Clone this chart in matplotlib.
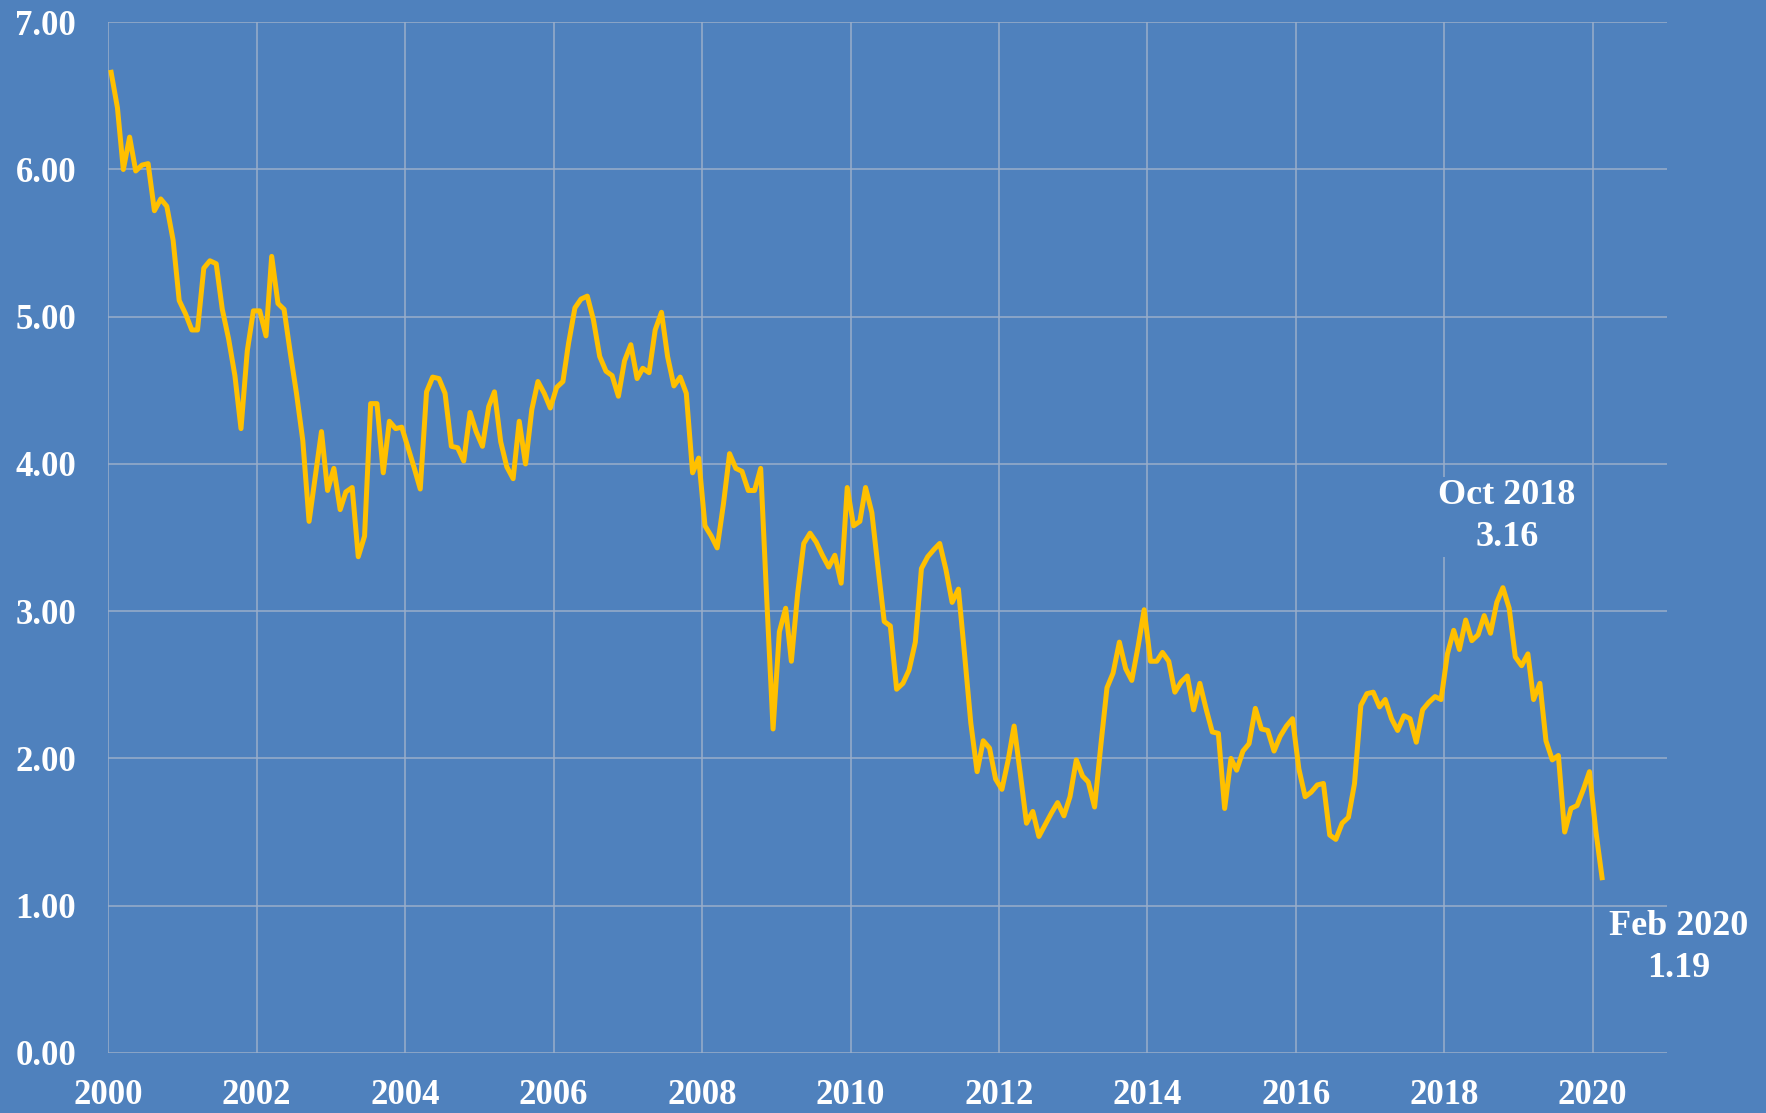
import matplotlib
matplotlib.use("Agg")
import matplotlib.dates as mdates
import matplotlib.pyplot as plt
import pandas as pd

BG_COLOR = "#4F81BD"
LINE_COLOR = "#FFC000"
GRID_COLOR = "#9AAECA"
TEXT_COLOR = "white"
FONT = ["Liberation Serif", "DejaVu Serif"]

# month-end yields, Jan 2000 .. Dec 2009
yields_2000s = [
    6.66, 6.42, 6.00, 6.22, 5.99, 6.03, 6.04, 5.72, 5.80, 5.75, 5.52, 5.11,
    5.02, 4.91, 4.91, 5.33, 5.38, 5.36, 5.05, 4.85, 4.60, 4.24, 4.77, 5.04,
    5.04, 4.87, 5.41, 5.09, 5.05, 4.75, 4.48, 4.16, 3.61, 3.91, 4.22, 3.82,
    3.97, 3.69, 3.81, 3.84, 3.37, 3.51, 4.41, 4.41, 3.94, 4.29, 4.24, 4.25,
    4.11, 3.97, 3.83, 4.49, 4.59, 4.58, 4.48, 4.12, 4.11, 4.02, 4.35, 4.22,
    4.12, 4.39, 4.49, 4.15, 3.98, 3.90, 4.29, 4.00, 4.37, 4.56, 4.48, 4.38,
    4.52, 4.56, 4.82, 5.06, 5.12, 5.14, 4.98, 4.73, 4.63, 4.60, 4.46, 4.70,
    4.81, 4.58, 4.65, 4.62, 4.91, 5.03, 4.73, 4.53, 4.59, 4.48, 3.94, 4.04,
    3.58, 3.51, 3.43, 3.73, 4.07, 3.97, 3.95, 3.82, 3.82, 3.97, 3.05, 2.20,
    2.86, 3.02, 2.66, 3.12, 3.46, 3.53, 3.47, 3.38, 3.30, 3.38, 3.19, 3.84,
]

# month-end yields, Jan 2010 .. Feb 2020
yields_2010s = [
    3.58, 3.61, 3.84, 3.67, 3.30, 2.93, 2.90, 2.47, 2.51, 2.60, 2.79, 3.29,
    3.37, 3.42, 3.46, 3.28, 3.06, 3.15, 2.71, 2.24, 1.91, 2.12, 2.07, 1.86,
    1.79, 1.99, 2.22, 1.89, 1.56, 1.64, 1.47, 1.55, 1.63, 1.70, 1.61, 1.74,
    1.99, 1.88, 1.84, 1.67, 2.08, 2.48, 2.58, 2.79, 2.61, 2.53, 2.76, 3.01,
    2.66, 2.66, 2.72, 2.66, 2.45, 2.52, 2.56, 2.33, 2.51, 2.34, 2.18, 2.17,
    1.66, 2.00, 1.92, 2.05, 2.10, 2.34, 2.20, 2.19, 2.05, 2.15, 2.22, 2.27,
    1.93, 1.74, 1.77, 1.82, 1.83, 1.48, 1.45, 1.56, 1.60, 1.83, 2.36, 2.44,
    2.45, 2.35, 2.40, 2.27, 2.19, 2.29, 2.27, 2.11, 2.33, 2.38, 2.42, 2.40,
    2.71, 2.87, 2.74, 2.94, 2.80, 2.84, 2.97, 2.85, 3.06, 3.16, 3.02, 2.69,
    2.63, 2.71, 2.40, 2.51, 2.12, 1.99, 2.02, 1.50, 1.66, 1.68, 1.79, 1.91,
    1.51, 1.19,
]

y_ticks = [0, 1, 2, 3, 4, 5, 6, 7]
peak_label = ("2018-10", "Oct 2018")
last_label = ("2020-02", "Feb 2020")


def main():
    values = yields_2000s + yields_2010s
    # points sit in the middle of each month
    dates = pd.date_range("2000-01-01", periods=len(values), freq="MS") + pd.Timedelta(days=15)
    series = pd.Series(values, index=dates)

    fig = plt.figure(figsize=(17.66, 11.13), dpi=100, facecolor=BG_COLOR)
    ax = fig.add_axes([0.0612, 0.054, 0.8828, 0.926])
    ax.set_facecolor(BG_COLOR)

    ax.plot(series.index, series.values, color=LINE_COLOR, lw=3.6, zorder=3)

    ax.set_xlim(pd.Timestamp("2000-01-01"), pd.Timestamp("2021-01-01"))
    ax.set_ylim(0, 7)
    ax.xaxis.set_major_locator(mdates.YearLocator(2))
    ax.xaxis.set_major_formatter(mdates.DateFormatter("%Y"))
    ax.set_yticks(y_ticks)
    ax.set_yticklabels([f"{t:.2f}" for t in y_ticks])

    ax.grid(True, color=GRID_COLOR, lw=1.1, zorder=1)
    ax.set_axisbelow(True)
    for spine in ax.spines.values():
        spine.set_visible(False)
    ax.tick_params(length=0, colors=TEXT_COLOR, labelsize=25)
    ax.tick_params(axis="y", pad=23)
    ax.tick_params(axis="x", pad=19)
    for lbl in ax.get_xticklabels() + ax.get_yticklabels():
        lbl.set_family(FONT)
        lbl.set_fontweight("bold")

    box = dict(facecolor=BG_COLOR, edgecolor="none", pad=2)
    for (month, name), offset in [(peak_label, (3, 51)), (last_label, (55, -50))]:
        point = series[month]
        ax.annotate(f"{name}\n{point.iloc[0]:.2f}",
                    xy=(point.index[0], point.iloc[0]),
                    xytext=offset, textcoords="offset points",
                    ha="center", va="center", color=TEXT_COLOR,
                    fontsize=26, fontweight="bold", family=FONT,
                    linespacing=1.35, bbox=box, zorder=4,
                    annotation_clip=False)

    fig.savefig("out.png", dpi=100, facecolor=BG_COLOR)


if __name__ == "__main__":
    main()
